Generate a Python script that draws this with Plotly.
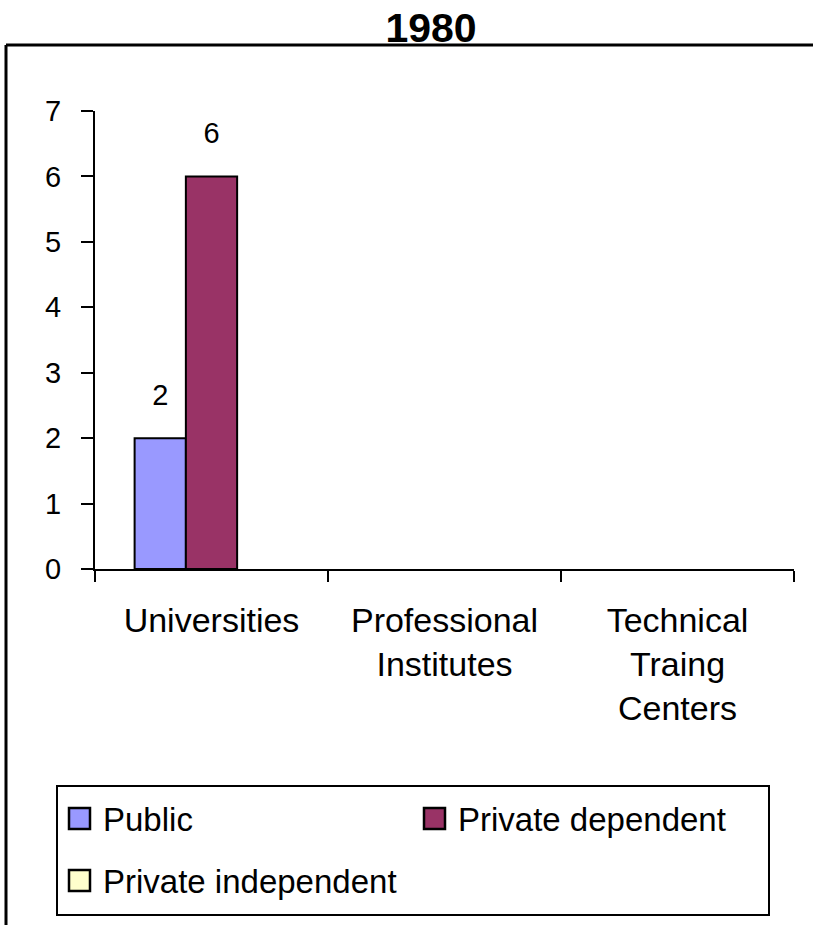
import plotly.graph_objects as go

categories = ["Universities", "Professional<br>Institutes", "Technical<br>Traing<br>Centers"]
series_names = ["Public", "Private dependent", "Private independent"]
public = [2, None, None]
private_dependent = [6, None, None]
private_independent = [None, None, None]
colors = ["#9999FF", "#993366", "#FFFFCC"]
y_ticks = [0, 1, 2, 3, 4, 5, 6, 7]
title_text = "1980"

FONT = "Liberation Sans, Arial, sans-serif"
W, H = 813, 925
L, R, T, B = 95, 19, 111, 356

pw = W - L - R
ph = H - T - B
def px_x(p):
    return (p - L) / pw
def px_y(p):
    return (H - B - p) / ph

series = [public, private_dependent, private_independent]

fig = go.Figure()
for name, vals, col in zip(series_names, series, colors):
    fig.add_trace(go.Bar(
        x=categories, y=vals, name=name,
        marker=dict(color=col, line=dict(color="black", width=2)),
        showlegend=False,
    ))
# value labels, grouped like the bars
for name, vals in zip(series_names, series):
    fig.add_trace(go.Scatter(
        x=categories, y=vals, name=name, mode="markers+text",
        marker=dict(size=40, opacity=0),
        text=[("%d" % v) if v is not None else "" for v in vals],
        textposition="top center",
        textfont=dict(family=FONT, size=29, color="black"),
        cliponaxis=False, showlegend=False, hoverinfo="skip",
    ))

shapes = [
    dict(type="line", xref="paper", yref="paper", x0=px_x(6), x1=px_x(W + 5),
         y0=px_y(45), y1=px_y(45), line=dict(color="black", width=3), layer="below"),
    dict(type="line", xref="paper", yref="paper", x0=px_x(6), x1=px_x(6),
         y0=px_y(45), y1=px_y(H + 5), line=dict(color="black", width=3), layer="below"),
    # legend box
    dict(type="rect", xref="paper", yref="paper", x0=px_x(57), x1=px_x(769),
         y0=px_y(786), y1=px_y(915), line=dict(color="black", width=2), fillcolor="white"),
]
annotations = []
legend_slots = [(69, 808), (424, 808), (69, 870)]
for (sx, sy), name, col in zip(legend_slots, series_names, colors):
    shapes.append(dict(type="rect", xref="paper", yref="paper",
                       x0=px_x(sx), x1=px_x(sx + 21), y0=px_y(sy), y1=px_y(sy + 21),
                       line=dict(color="black", width=2.5), fillcolor=col))
    annotations.append(dict(text=name, xref="paper", yref="paper", x=px_x(sx + 32),
                            y=px_y(sy + 11), xanchor="left", yanchor="middle", showarrow=False,
                            font=dict(family=FONT, size=33, color="black")))

fig.update_layout(
    width=W, height=H,
    margin=dict(l=L, r=R, t=T, b=B, pad=0, autoexpand=False),
    paper_bgcolor="white", plot_bgcolor="white",
    barmode="group", bargap=0.34, bargroupgap=0,
    scattermode="group", scattergap=0.34,
    font=dict(family=FONT, color="black"),
    title=dict(text="<b>%s</b>" % title_text, x=431 / W, xanchor="center",
               y=1 - 28 / H, yanchor="middle", xref="container", yref="container",
               font=dict(family=FONT, size=41, color="black")),
    showlegend=False,
    shapes=shapes,
    annotations=annotations,
)
fig.update_xaxes(
    type="category", tickson="boundaries", ticks="outside", ticklen=11, tickwidth=2,
    tickcolor="black", showline=True, linecolor="black", linewidth=2, showgrid=False,
    tickfont=dict(family=FONT, size=34, color="black"), ticklabelstandoff=20,
    automargin=False,
)
fig.update_yaxes(
    range=[0, 7], tickvals=y_ticks, ticks="outside", ticklen=12, tickwidth=2,
    tickcolor="black", showline=True, linecolor="black", linewidth=2, showgrid=False,
    zeroline=False, tickfont=dict(family=FONT, size=29, color="black"),
    ticklabelstandoff=14, automargin=False,
)

fig.write_html("out.html", config={"displayModeBar": False},
               post_script="document.body.style.margin='0';")
